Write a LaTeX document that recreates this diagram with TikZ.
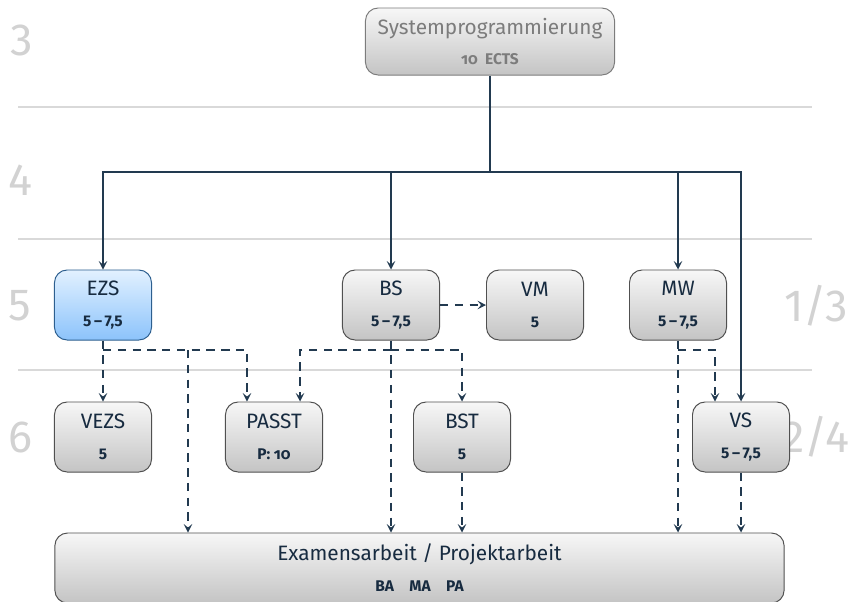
\documentclass[tikz,border=0pt]{standalone}
\usepackage{fontspec}
\setmainfont{Fira Sans}
\usetikzlibrary{arrows.meta}
\definecolor{boxTop}{HTML}{F7F7F7}
\definecolor{boxBottom}{HTML}{C4C4C4}
\definecolor{boxBorder}{HTML}{505050}
\definecolor{ezsTop}{HTML}{E2F1FF}
\definecolor{ezsBottom}{HTML}{8CC3FB}
\definecolor{ezsBorder}{HTML}{2D5F8F}
\definecolor{textBlue}{HTML}{172B40}
\definecolor{lineBlue}{HTML}{223A50}
\definecolor{rowGrey}{HTML}{D2D2D2}
\definecolor{headGrey}{HTML}{7C7C7C}
\newcommand{\labelfont}{\fontsize{14.8}{16}\selectfont}
\newcommand{\valfont}{\fontsize{11}{13}\selectfont\bfseries}
\begin{document}
\begin{tikzpicture}[x=0.025cm, y=-0.025cm,
  modul/.style={draw=boxBorder, line width=0.7pt, rounded corners=9pt,
    top color=boxTop, bottom color=boxBottom, text=textBlue,
    minimum width=2.425cm, minimum height=1.75cm, align=center, font=\labelfont},
  aktiv/.style={modul, draw=ezsBorder, top color=ezsTop, bottom color=ezsBottom},
  reihe/.style={text=rowGrey, font=\fontsize{32}{32}\selectfont, inner sep=0pt},
  trenner/.style={draw=rowGrey!85!white, line width=2pt},
  pflicht/.style={draw=lineBlue, line width=0.8pt, -{Stealth[length=6pt,width=6pt,inset=2.5pt]}},
  wahl/.style={pflicht, dash pattern=on 6pt off 4.5pt}]
\clip (0,0) rectangle (855,601);
% Semester rows
\draw[trenner] (18,107) -- (812,107);
\draw[trenner] (18,239) -- (812,239);
\draw[trenner] (18,370) -- (812,370);
\node[reihe] (r3) at (22,40) {3};
\node[reihe] (r4) at (20,180) {4};
\node[reihe] (r5) at (20,306) {5};
\node[reihe] (r6) at (20,437) {6};
\node[reihe] (r13) at (816,306) {1/3};
\node[reihe] (r24) at (816,437) {2/4};
% Modules
\node[modul, draw=headGrey, text=headGrey, minimum width=6.225cm, minimum height=1.675cm] (sys) at (490,41.5)
  {Systemprogrammierung\\[5pt]{\valfont\addfontfeatures{Numbers=OldStyle}10\ \ ECTS}};
\node[aktiv] (ezs) at (103,305) {EZS\\[6pt]{\valfont 5\,–\,7,5}};
\node[modul] (bs) at (391,305) {BS\\[6pt]{\valfont 5\,–\,7,5}};
\node[modul] (vm) at (535,305) {VM\\[6pt]{\valfont 5}};
\node[modul] (mw) at (678,305) {MW\\[6pt]{\valfont 5\,–\,7,5}};
\node[modul] (vezs) at (103,437) {VEZS\\[6pt]{\valfont 5}};
\node[modul] (passt) at (274,437) {PASST\\[6pt]{\valfont\addfontfeatures{Numbers=OldStyle}P: 10}};
\node[modul] (bst) at (462,437) {BST\\[6pt]{\valfont 5}};
\node[modul] (vs) at (741,437) {VS\\[6pt]{\valfont 5\,–\,7,5}};
\node[modul, minimum width=18.225cm] (exam) at (419.5,568)
  {Examensarbeit / Projektarbeit\\[6pt]{\valfont BA\quad MA\quad PA}};
% Required paths
\coordinate (verteiler) at (490,172);
\draw[draw=lineBlue, line width=0.8pt] (sys.south) -- (verteiler);
\draw[pflicht] (verteiler) -| (ezs.north);
\draw[pflicht] (verteiler) -| (bs.north);
\draw[pflicht] (verteiler) -| (mw.north);
\draw[pflicht] (verteiler) -| (vs.north);
% Optional paths
\coordinate (ezsfork) at (103,350);
\coordinate (ezsexam) at (188,350);
\coordinate (bsfork) at (391,350);
\coordinate (mwfork) at (678,350);
\draw[wahl] (ezs.south) -- (vezs.north);
\draw[wahl] (ezsfork) -| ([xshift=-0.675cm]passt.north);
\draw[wahl] (ezsexam) -- (ezsexam |- exam.north);
\draw[wahl] (bs.east) -- (vm.west);
\draw[wahl] (bs.south) -- (bs.south |- exam.north);
\draw[wahl] (bsfork) -| ([xshift=0.65cm]passt.north);
\draw[wahl] (bsfork) -| (bst.north);
\draw[wahl] (bst.south) -- (bst.south |- exam.north);
\draw[wahl] (mw.south) -- (mw.south |- exam.north);
\draw[wahl] (mwfork) -| ([xshift=-0.65cm]vs.north);
\draw[wahl] (vs.south) -- (vs.south |- exam.north);
\end{tikzpicture}
\end{document}
